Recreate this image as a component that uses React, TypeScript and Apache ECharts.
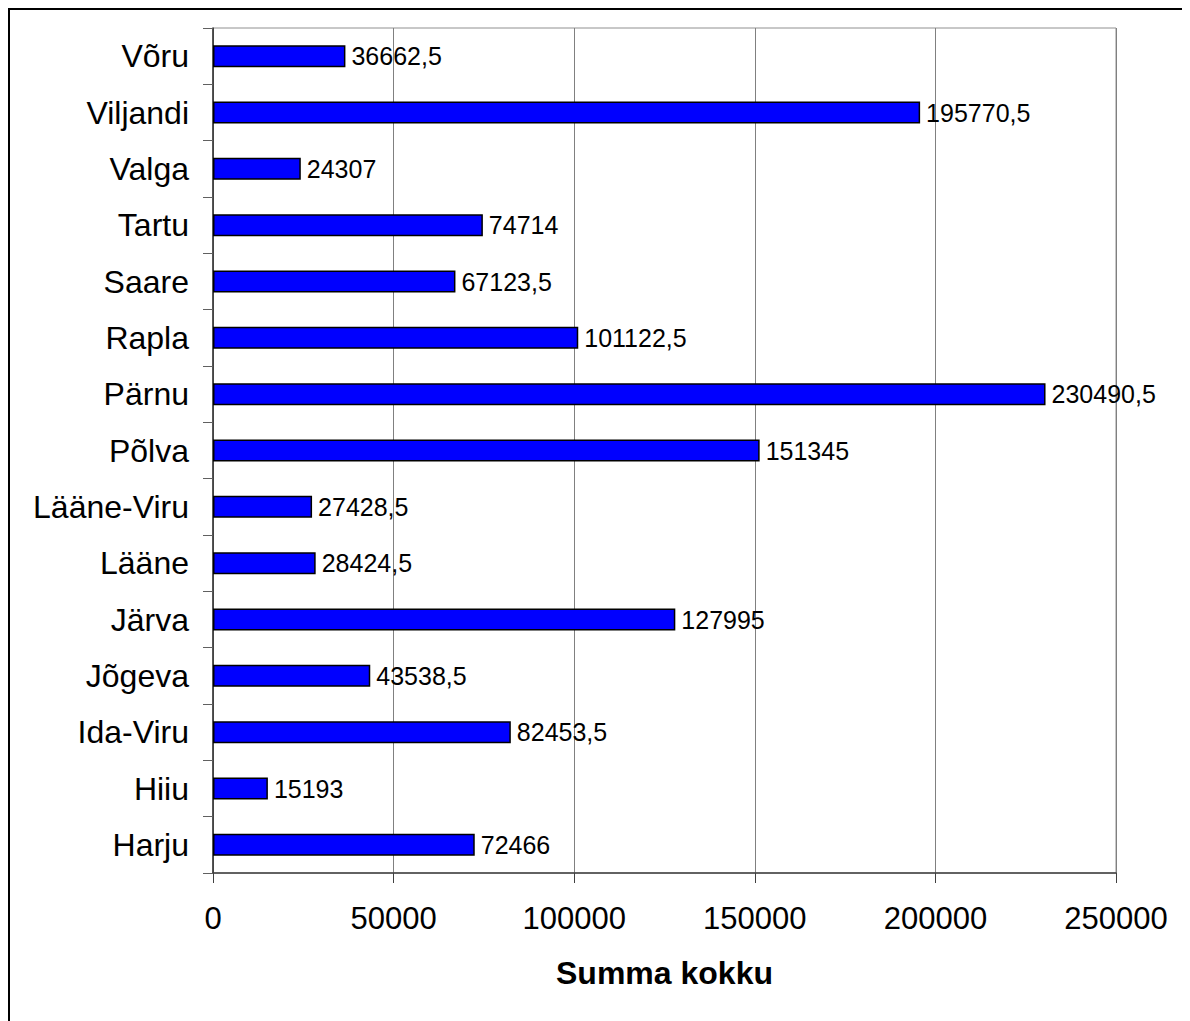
import React, { useEffect, useRef } from "react";
import * as echarts from "echarts";

const categories = [
  "Harju",
  "Hiiu",
  "Ida-Viru",
  "Jõgeva",
  "Järva",
  "Lääne",
  "Lääne-Viru",
  "Põlva",
  "Pärnu",
  "Rapla",
  "Saare",
  "Tartu",
  "Valga",
  "Viljandi",
  "Võru",
];

const values = [
  72466, 15193, 82453.5, 43538.5, 127995, 28424.5, 27428.5, 151345, 230490.5,
  101122.5, 67123.5, 74714, 24307, 195770.5, 36662.5,
];

const xTicks = { min: 0, max: 250000, interval: 50000 };
const axisName = "Summa kokku";

const FONT = "'Liberation Sans', Arial, sans-serif";

export default function App() {
  const ref = useRef<HTMLDivElement>(null);
  useEffect(() => {
    if (!ref.current) return;
    const chart = echarts.init(ref.current, undefined, { renderer: "svg" });
    chart.setOption({
      animation: false,
      backgroundColor: "#ffffff",
      textStyle: { fontFamily: FONT },
      graphic: [
        {
          type: "rect",
          shape: { x: 1, y: 1, width: 3000, height: 3000 },
          style: { fill: "none", stroke: "#000", lineWidth: 2 },
          silent: true,
        },
      ],
      grid: {
        left: 205,
        top: 20,
        right: 74,
        bottom: 148,
        show: true,
        borderColor: "#909090",
        borderWidth: 1,
        containLabel: false,
      },
      xAxis: {
        type: "value",
        min: xTicks.min,
        max: xTicks.max,
        interval: xTicks.interval,
        name: axisName,
        nameLocation: "middle",
        nameGap: 84,
        nameTextStyle: {
          fontSize: 32,
          fontWeight: "bold",
          color: "#000",
          fontFamily: FONT,
        },
        axisLine: { show: true, lineStyle: { color: "#404040", width: 1.5 } },
        axisTick: {
          show: true,
          length: 10,
          inside: false,
          lineStyle: { color: "#404040" },
        },
        axisLabel: {
          fontSize: 31,
          color: "#000",
          margin: 30,
          fontFamily: FONT,
          formatter: (v: number) => String(v),
        },
        splitLine: { show: true, lineStyle: { color: "#808080", width: 1 } },
      },
      yAxis: {
        type: "category",
        data: categories,
        axisLine: { show: true, lineStyle: { color: "#303030", width: 1.5 } },
        axisTick: {
          show: true,
          length: 10,
          inside: false,
          lineStyle: { color: "#606060" },
        },
        axisLabel: {
          fontSize: 32,
          color: "#000",
          margin: 24,
          fontFamily: FONT,
        },
        splitLine: { show: false },
      },
      series: [
        {
          type: "bar",
          data: values,
          barWidth: 22,
          itemStyle: { color: "#0000ff", borderColor: "#000", borderWidth: 1.5 },
          label: {
            show: true,
            position: "right",
            distance: 6,
            fontSize: 25,
            color: "#000",
            fontFamily: FONT,
            formatter: (p: any) => String(p.value).replace(".", ","),
          },
        },
      ],
    });
    return () => chart.dispose();
  }, []);
  return <div ref={ref} style={{ width: 1182, height: 1013 }} />;
}
